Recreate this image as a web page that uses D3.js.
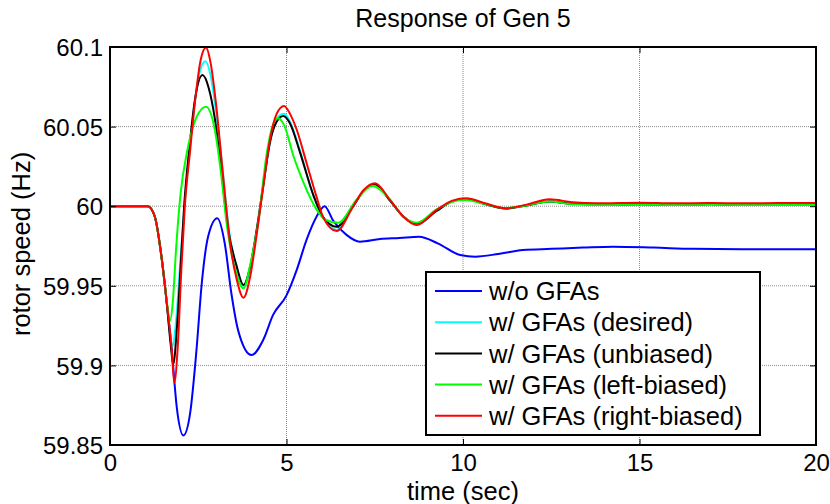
<!DOCTYPE html>
<html>
<head>
<meta charset="utf-8">
<script src="https://cdn.jsdelivr.net/npm/d3@7/dist/d3.min.js"></script>
<style>
  html, body { margin: 0; padding: 0; background: #fff; }
  svg text { font-family: "Liberation Sans", Arial, Helvetica, sans-serif; fill: #000; }
</style>
</head>
<body>
<svg id="chart" width="830" height="504"></svg>
<script>
// Rotor speed of generator 5 after the disturbance (time in s, speed in Hz)
const titleText = "Response of Gen 5";
const xLabel = "time (sec)";
const yLabel = "rotor speed (Hz)";

const xTicks = [0, 5, 10, 15, 20];
const yTicks = [59.85, 59.9, 59.95, 60, 60.05, 60.1];
const yTickLabels = ["59.85", "59.9", "59.95", "60", "60.05", "60.1"];

const seriesNames = ["w/o GFAs", "w/ GFAs (desired)", "w/ GFAs (unbiased)", "w/ GFAs (left-biased)", "w/ GFAs (right-biased)"];
const seriesColors = ["#0000ff", "#00ffff", "#000000", "#00ff00", "#ff0000"];

const timeNoGfa = [0, 1.07, 1.27, 1.46, 1.6, 1.75, 1.89, 2.08, 2.27, 2.45, 2.6, 2.78, 3.04, 3.25, 3.44, 3.63, 4.01, 4.34, 4.62, 5.0, 5.29, 5.57, 5.85, 6.08, 6.32, 6.7, 7.08, 7.65, 8.2, 8.75, 9.3, 9.92, 10.35, 11.0, 11.7, 12.5, 13.4, 14.25, 15.4, 16.5, 17.9, 20];
const speedNoGfa = [60, 60, 59.9934, 59.968, 59.941, 59.9097, 59.874, 59.856, 59.870, 59.9097, 59.9516, 59.981, 59.9924, 59.9767, 59.945, 59.922, 59.9065, 59.916, 59.9317, 59.944, 59.96, 59.979, 59.9934, 60.0, 59.991, 59.982, 59.9777, 59.9794, 59.980, 59.9808, 59.9765, 59.9693, 59.9683, 59.970, 59.9725, 59.9732, 59.974, 59.9746, 59.9740, 59.9732, 59.9729, 59.9729];

const timeDesired = [0, 1.07, 1.27, 1.46, 1.6, 1.7, 1.77, 1.88, 2.0, 2.12, 2.27, 2.42, 2.55, 2.7, 2.85, 3.0, 3.18, 3.37, 3.58, 3.78, 3.97, 4.16, 4.34, 4.53, 4.72, 4.93, 5.1, 5.38, 5.76, 6.04, 6.42, 6.89, 7.18, 7.5, 7.93, 8.31, 8.69, 9.25, 9.7, 10.1, 10.6, 11.2, 11.8, 12.45, 13.1, 14, 15, 16, 17, 18, 20];
const speedDesired = [60, 60, 59.9934, 59.968, 59.941, 59.92, 59.912, 59.93, 59.968, 60.003, 60.038, 60.068, 60.085, 60.091, 60.082, 60.06, 60.025, 59.985, 59.962, 59.949, 59.961, 59.985, 60.012, 60.04, 60.055, 60.058, 60.053, 60.035, 60.007, 59.993, 59.985, 60.0, 60.0095, 60.014, 60.0035, 59.9935, 59.9885, 59.997, 60.003, 60.0045, 60.0015, 59.9985, 60.0005, 60.003, 60.0015, 60.001, 60.0012, 60.001, 60.0012, 60.001, 60.001];

const timeUnbiased = [0, 1.07, 1.27, 1.46, 1.6, 1.72, 1.79, 1.9, 2.0, 2.1, 2.25, 2.4, 2.62, 2.8, 2.97, 3.14, 3.35, 3.58, 3.78, 3.97, 4.16, 4.34, 4.53, 4.72, 4.91, 5.1, 5.38, 5.76, 6.04, 6.42, 6.89, 7.18, 7.5, 7.93, 8.31, 8.69, 9.25, 9.7, 10.1, 10.6, 11.2, 11.8, 12.45, 13.1, 14, 15, 16, 17, 18, 20];
const speedUnbiased = [60, 60, 59.9934, 59.968, 59.941, 59.913, 59.9007, 59.925, 59.962, 60.0, 60.037, 60.066, 60.0824, 60.074, 60.055, 60.025, 59.985, 59.963, 59.9505, 59.962, 59.986, 60.013, 60.04, 60.053, 60.0567, 60.052, 60.034, 60.007, 59.993, 59.9871, 60.0, 60.0095, 60.0138, 60.0035, 59.9935, 59.9888, 59.997, 60.003, 60.0045, 60.0015, 59.9985, 60.0005, 60.003, 60.0015, 60.001, 60.0012, 60.001, 60.0012, 60.001, 60.001];

const timeLeft = [0, 1.07, 1.27, 1.46, 1.6, 1.7, 1.78, 1.87, 2.0, 2.19, 2.45, 2.72, 2.97, 3.16, 3.3, 3.55, 3.78, 3.97, 4.2, 4.44, 4.6, 4.76, 4.95, 5.19, 5.48, 5.85, 6.1, 6.47, 6.98, 7.44, 7.9, 8.3, 8.69, 9.25, 10.0, 10.6, 11.2, 11.8, 12.45, 13.1, 14, 15, 16, 17, 18, 20];
const speedLeft = [60, 60, 59.9934, 59.968, 59.942, 59.928, 59.94, 59.9725, 60.008, 60.035, 60.056, 60.0625, 60.048, 60.018, 59.99, 59.96, 59.9484, 59.963, 59.99, 60.033, 60.05, 60.0552, 60.05, 60.032, 60.015, 59.998, 59.9915, 59.9896, 60.004, 60.0127, 60.005, 59.9935, 59.9896, 59.998, 60.004, 60.0015, 59.9988, 60.0005, 60.003, 60.0012, 60.0008, 60.001, 60.0008, 60.001, 60.0008, 60.0008];

const timeRight = [0, 1.07, 1.27, 1.46, 1.6, 1.75, 1.82, 1.92, 2.02, 2.12, 2.27, 2.42, 2.57, 2.72, 2.85, 3.0, 3.2, 3.4, 3.6, 3.78, 3.97, 4.16, 4.34, 4.53, 4.72, 4.93, 5.1, 5.29, 5.57, 5.85, 6.04, 6.42, 6.89, 7.18, 7.51, 7.93, 8.31, 8.69, 9.25, 9.7, 10.1, 10.6, 11.2, 11.8, 12.45, 13.1, 13.8, 15, 16, 17, 18, 19, 20];
const speedRight = [60, 60, 59.9934, 59.968, 59.941, 59.9097, 59.889, 59.912, 59.96, 60.0, 60.035, 60.068, 60.092, 60.0997, 60.09, 60.065, 60.02, 59.977, 59.953, 59.9425, 59.9557, 59.983, 60.012, 60.0416, 60.058, 60.063, 60.058, 60.048, 60.027, 60.006, 59.993, 59.9844, 60.0, 60.01, 60.0144, 60.004, 59.9934, 59.9882, 59.9976, 60.0035, 60.005, 60.002, 59.9987, 60.001, 60.0043, 60.0025, 60.0018, 60.0022, 60.0018, 60.002, 60.0018, 60.002, 60.002];

const seriesTimes = [timeNoGfa, timeDesired, timeUnbiased, timeLeft, timeRight];
const seriesSpeeds = [speedNoGfa, speedDesired, speedUnbiased, speedLeft, speedRight];

const W = 830, H = 504;
const plot = { left: 110, right: 816, top: 47, bottom: 445 };

const svg = d3.select("#chart");
svg.append("rect").attr("width", W).attr("height", H).attr("fill", "#fff");

const x = d3.scaleLinear().domain([0, 20]).range([plot.left, plot.right]);
const y = d3.scaleLinear().domain([59.85, 60.1]).range([plot.bottom, plot.top]);

// dotted grid
const grid = svg.append("g").attr("stroke", "#8c8c8c").attr("stroke-width", 1).attr("stroke-dasharray", "1,1");
xTicks.slice(1, -1).forEach(t => {
  grid.append("line").attr("x1", x(t)).attr("x2", x(t)).attr("y1", plot.top).attr("y2", plot.bottom);
});
yTicks.slice(1, -1).forEach(v => {
  grid.append("line").attr("x1", plot.left).attr("x2", plot.right).attr("y1", y(v)).attr("y2", y(v));
});

// curves
const line = d3.line().x(d => x(d[0])).y(d => y(d[1])).curve(d3.curveMonotoneX);
const curves = svg.append("g").attr("fill", "none").attr("stroke-width", 2).attr("stroke-linejoin", "round");
seriesNames.forEach((name, i) => {
  const pts = seriesTimes[i].map((t, k) => [t, seriesSpeeds[i][k]]);
  curves.append("path").attr("d", line(pts)).attr("stroke", seriesColors[i]);
});

// axes with inward ticks on all four sides
const tickLen = 6;
const axBottom = svg.append("g").attr("transform", `translate(0,${plot.bottom})`)
  .call(d3.axisBottom(x).tickValues(xTicks).tickSizeInner(-tickLen).tickSizeOuter(0).tickPadding(12));
const axTop = svg.append("g").attr("transform", `translate(0,${plot.top})`)
  .call(d3.axisTop(x).tickValues(xTicks).tickSizeInner(-tickLen).tickSizeOuter(0).tickFormat(""));
const axLeft = svg.append("g").attr("transform", `translate(${plot.left},0)`)
  .call(d3.axisLeft(y).tickValues(yTicks).tickSizeInner(-tickLen).tickSizeOuter(0).tickPadding(8)
    .tickFormat((d, i) => yTickLabels[i]));
const axRight = svg.append("g").attr("transform", `translate(${plot.right},0)`)
  .call(d3.axisRight(y).tickValues(yTicks).tickSizeInner(-tickLen).tickSizeOuter(0).tickFormat(""));

[axBottom, axTop, axLeft, axRight].forEach(a => {
  a.select(".domain").remove();
  a.selectAll(".tick line").attr("stroke", "#000").attr("stroke-width", 1);
  a.selectAll("text").attr("font-size", 24).attr("font-family", null).attr("fill", "#000");
});
axBottom.selectAll("text").attr("dy", null).attr("y", 26);
axLeft.selectAll("text").attr("dy", "0.36em").attr("x", -7);

// plot frame
svg.append("rect")
  .attr("x", plot.left).attr("y", plot.top)
  .attr("width", plot.right - plot.left).attr("height", plot.bottom - plot.top)
  .attr("fill", "none").attr("stroke", "#000").attr("stroke-width", 2);

// title and axis labels
svg.append("text").attr("x", (plot.left + plot.right) / 2).attr("y", 27)
  .attr("text-anchor", "middle").attr("font-size", 25).text(titleText);
svg.append("text").attr("x", (plot.left + plot.right) / 2).attr("y", 500)
  .attr("text-anchor", "middle").attr("font-size", 25.5).text(xLabel);
svg.append("text").attr("transform", `translate(30,${(plot.top + plot.bottom) / 2 - 2}) rotate(-90)`)
  .attr("text-anchor", "middle").attr("font-size", 25.5).text(yLabel);

// legend
const legend = { x: 426, y: 272, w: 334, h: 163, row0: 291, rowGap: 31.2 };
const lg = svg.append("g");
lg.append("rect").attr("x", legend.x).attr("y", legend.y).attr("width", legend.w).attr("height", legend.h)
  .attr("fill", "#fff").attr("stroke", "#000").attr("stroke-width", 2);
seriesNames.forEach((name, i) => {
  const ry = legend.row0 + i * legend.rowGap;
  lg.append("line").attr("x1", 435).attr("x2", 482).attr("y1", ry).attr("y2", ry)
    .attr("stroke", seriesColors[i]).attr("stroke-width", 2);
  lg.append("text").attr("x", 489).attr("y", ry).attr("dy", "0.36em")
    .attr("font-size", 25.5).text(name);
});
</script>
